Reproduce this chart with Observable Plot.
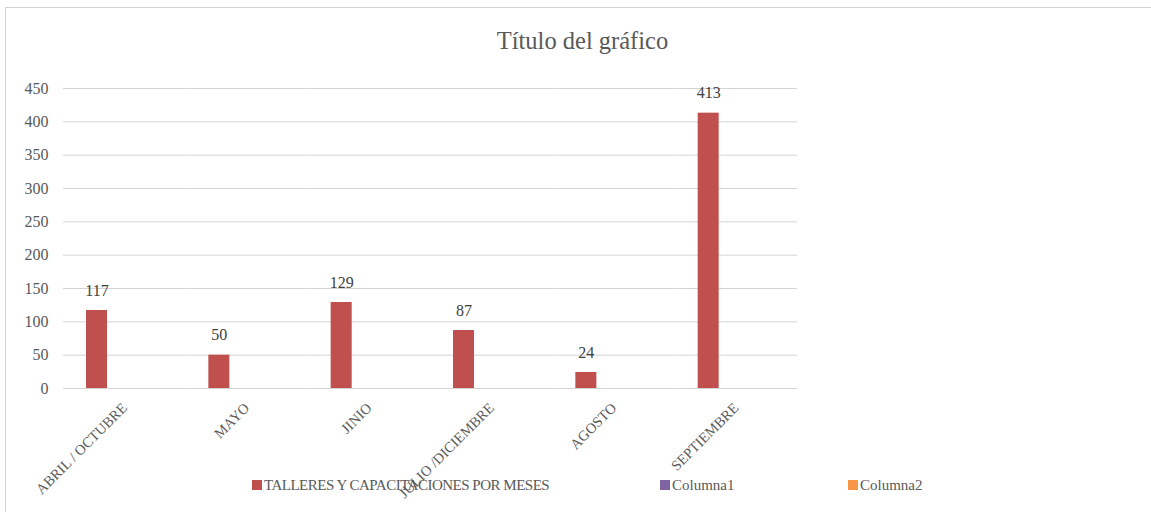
<!DOCTYPE html>
<html>
<head>
<meta charset="utf-8">
<script src="https://cdn.jsdelivr.net/npm/d3@7"></script>
<script src="https://cdn.jsdelivr.net/npm/@observablehq/plot@0.6"></script>
<style>
  html, body { margin: 0; padding: 0; background: #fff; }
  #wrap { position: relative; width: 1151px; height: 512px; overflow: hidden; font-family: "Liberation Serif", serif; color: #595959; }
  #border { position: absolute; left: 5px; top: 7px; width: 2000px; height: 1000px; border-left: 1px solid #d4d4d4; border-top: 1px solid #d4d4d4; }
  #chart { position: absolute; left: 0; top: 0; }
  #title { position: absolute; top: 28.5px; left: 582.5px; transform: translateX(-50%); font-size: 24.5px; line-height: 1; white-space: nowrap; }
  .leg { position: absolute; top: 477.5px; font-size: 15px; line-height: 1; white-space: nowrap; }
  .sw { position: absolute; top: 479.5px; width: 10px; height: 10px; }
</style>
</head>
<body>
<div id="wrap">
  <div id="border"></div>
  <div id="chart"></div>
  <div id="title"></div>
  <div id="legend"></div>
</div>
<script>
const title = "Título del gráfico";
const categories = ["ABRIL / OCTUBRE", "MAYO", "JINIO", "JULIO /DICIEMBRE", "AGOSTO", "SEPTIEMBRE"];
const series = ["TALLERES Y CAPACITACIONES POR MESES", "Columna1", "Columna2"];
const talleres = [117, 50, 129, 87, 24, 413];
const columna1 = [null, null, null, null, null, null];
const columna2 = [null, null, null, null, null, null];
const seriesColors = ["#C0504D", "#8064A2", "#F79646"];
const yTicks = [0, 50, 100, 150, 200, 250, 300, 350, 400, 450];

const seriesValues = [talleres, columna1, columna2];
const rows = [];
categories.forEach((c, i) => {
  series.forEach((s, j) => {
    rows.push({cat: c, series: s, value: seriesValues[j][i]});
  });
});
const present = rows.filter(d => d.value != null);

const chart = Plot.plot({
  width: 1151,
  height: 512,
  marginTop: 88,
  marginBottom: 124,
  marginLeft: 63,
  marginRight: 354,
  style: {fontFamily: "Liberation Serif, serif", fontSize: "16px", color: "#595959", background: "transparent"},
  fx: {domain: categories, paddingInner: 0, paddingOuter: 0, round: false},
  x: {domain: series, paddingInner: 0.24, paddingOuter: 0.832, round: false, axis: null},
  y: {domain: [0, 450]},
  color: {domain: series, range: seriesColors},
  marks: [
    Plot.ruleY(yTicks, {stroke: "#d4d4d4", strokeWidth: 1}),
    Plot.barY(present, {fx: "cat", x: "series", y: "value", fill: "series"}),
    Plot.text(present, {fx: "cat", x: "series", y: "value", text: d => String(d.value), dy: -20, fill: "#404040", fontSize: 16}),
    Plot.axisY({ticks: yTicks, tickSize: 0, tickPadding: 15, label: null, fontSize: 16}),
    Plot.axisFx({anchor: "bottom", tickRotate: -45, tickSize: 0, tickPadding: 17, label: null, fontSize: 14.5})
  ]
});
document.getElementById("chart").appendChild(chart);
document.getElementById("title").textContent = title;

const legendPos = [[252, 264], [660, 672], [848, 860]];
const legend = document.getElementById("legend");
series.forEach((s, j) => {
  const sw = document.createElement("div");
  sw.className = "sw";
  sw.style.left = legendPos[j][0] + "px";
  sw.style.background = seriesColors[j];
  legend.appendChild(sw);
  const t = document.createElement("div");
  t.className = "leg";
  t.style.left = legendPos[j][1] + "px";
  if (j === 0) t.style.letterSpacing = "-0.5px";
  t.textContent = s;
  legend.appendChild(t);
});
</script>
</body>
</html>
